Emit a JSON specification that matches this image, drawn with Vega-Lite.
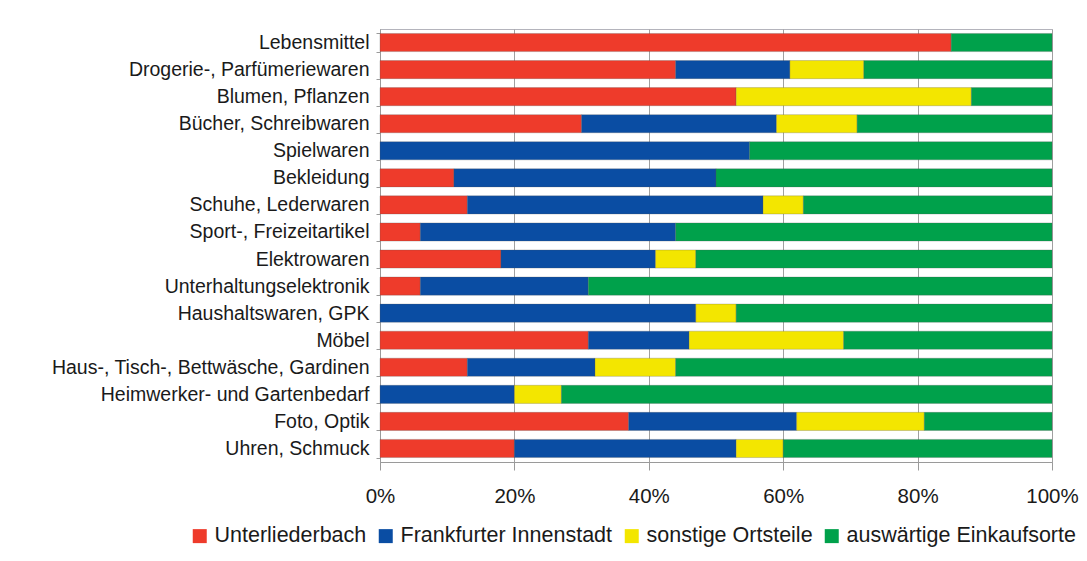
{
  "$schema": "https://vega.github.io/schema/vega-lite/v6.json",
  "autosize": {"type": "none"},
  "width": 672,
  "height": 433,
  "padding": {"left": 380, "top": 29, "right": 35, "bottom": 99},
  "background": "white",
  "config": {
    "font": "Liberation Sans",
    "view": {"stroke": "#b4b4bc", "strokeWidth": 1},
    "axis": {"labelColor": "#1a1a1a", "domainColor": "#9a9a9a", "tickColor": "#9a9a9a", "gridColor": "#a0a0a0", "gridWidth": 1}
  },
  "data": {
    "values": [
      {"k": "Lebensmittel", "s": "Unterliederbach", "o": 1, "v": 85},
      {"k": "Lebensmittel", "s": "auswärtige Einkaufsorte", "o": 4, "v": 15},
      {"k": "Drogerie-, Parfümeriewaren", "s": "Unterliederbach", "o": 1, "v": 44},
      {"k": "Drogerie-, Parfümeriewaren", "s": "Frankfurter Innenstadt", "o": 2, "v": 17},
      {"k": "Drogerie-, Parfümeriewaren", "s": "sonstige Ortsteile", "o": 3, "v": 11},
      {"k": "Drogerie-, Parfümeriewaren", "s": "auswärtige Einkaufsorte", "o": 4, "v": 28},
      {"k": "Blumen, Pflanzen", "s": "Unterliederbach", "o": 1, "v": 53},
      {"k": "Blumen, Pflanzen", "s": "sonstige Ortsteile", "o": 3, "v": 35},
      {"k": "Blumen, Pflanzen", "s": "auswärtige Einkaufsorte", "o": 4, "v": 12},
      {"k": "Bücher, Schreibwaren", "s": "Unterliederbach", "o": 1, "v": 30},
      {"k": "Bücher, Schreibwaren", "s": "Frankfurter Innenstadt", "o": 2, "v": 29},
      {"k": "Bücher, Schreibwaren", "s": "sonstige Ortsteile", "o": 3, "v": 12},
      {"k": "Bücher, Schreibwaren", "s": "auswärtige Einkaufsorte", "o": 4, "v": 29},
      {"k": "Spielwaren", "s": "Frankfurter Innenstadt", "o": 2, "v": 55},
      {"k": "Spielwaren", "s": "auswärtige Einkaufsorte", "o": 4, "v": 45},
      {"k": "Bekleidung", "s": "Unterliederbach", "o": 1, "v": 11},
      {"k": "Bekleidung", "s": "Frankfurter Innenstadt", "o": 2, "v": 39},
      {"k": "Bekleidung", "s": "auswärtige Einkaufsorte", "o": 4, "v": 50},
      {"k": "Schuhe, Lederwaren", "s": "Unterliederbach", "o": 1, "v": 13},
      {"k": "Schuhe, Lederwaren", "s": "Frankfurter Innenstadt", "o": 2, "v": 44},
      {"k": "Schuhe, Lederwaren", "s": "sonstige Ortsteile", "o": 3, "v": 6},
      {"k": "Schuhe, Lederwaren", "s": "auswärtige Einkaufsorte", "o": 4, "v": 37},
      {"k": "Sport-, Freizeitartikel", "s": "Unterliederbach", "o": 1, "v": 6},
      {"k": "Sport-, Freizeitartikel", "s": "Frankfurter Innenstadt", "o": 2, "v": 38},
      {"k": "Sport-, Freizeitartikel", "s": "auswärtige Einkaufsorte", "o": 4, "v": 56},
      {"k": "Elektrowaren", "s": "Unterliederbach", "o": 1, "v": 18},
      {"k": "Elektrowaren", "s": "Frankfurter Innenstadt", "o": 2, "v": 23},
      {"k": "Elektrowaren", "s": "sonstige Ortsteile", "o": 3, "v": 6},
      {"k": "Elektrowaren", "s": "auswärtige Einkaufsorte", "o": 4, "v": 53},
      {"k": "Unterhaltungselektronik", "s": "Unterliederbach", "o": 1, "v": 6},
      {"k": "Unterhaltungselektronik", "s": "Frankfurter Innenstadt", "o": 2, "v": 25},
      {"k": "Unterhaltungselektronik", "s": "auswärtige Einkaufsorte", "o": 4, "v": 69},
      {"k": "Haushaltswaren, GPK", "s": "Frankfurter Innenstadt", "o": 2, "v": 47},
      {"k": "Haushaltswaren, GPK", "s": "sonstige Ortsteile", "o": 3, "v": 6},
      {"k": "Haushaltswaren, GPK", "s": "auswärtige Einkaufsorte", "o": 4, "v": 47},
      {"k": "Möbel", "s": "Unterliederbach", "o": 1, "v": 31},
      {"k": "Möbel", "s": "Frankfurter Innenstadt", "o": 2, "v": 15},
      {"k": "Möbel", "s": "sonstige Ortsteile", "o": 3, "v": 23},
      {"k": "Möbel", "s": "auswärtige Einkaufsorte", "o": 4, "v": 31},
      {"k": "Haus-, Tisch-, Bettwäsche, Gardinen", "s": "Unterliederbach", "o": 1, "v": 13},
      {"k": "Haus-, Tisch-, Bettwäsche, Gardinen", "s": "Frankfurter Innenstadt", "o": 2, "v": 19},
      {"k": "Haus-, Tisch-, Bettwäsche, Gardinen", "s": "sonstige Ortsteile", "o": 3, "v": 12},
      {"k": "Haus-, Tisch-, Bettwäsche, Gardinen", "s": "auswärtige Einkaufsorte", "o": 4, "v": 56},
      {"k": "Heimwerker- und Gartenbedarf", "s": "Frankfurter Innenstadt", "o": 2, "v": 20},
      {"k": "Heimwerker- und Gartenbedarf", "s": "sonstige Ortsteile", "o": 3, "v": 7},
      {"k": "Heimwerker- und Gartenbedarf", "s": "auswärtige Einkaufsorte", "o": 4, "v": 73},
      {"k": "Foto, Optik", "s": "Unterliederbach", "o": 1, "v": 37},
      {"k": "Foto, Optik", "s": "Frankfurter Innenstadt", "o": 2, "v": 25},
      {"k": "Foto, Optik", "s": "sonstige Ortsteile", "o": 3, "v": 19},
      {"k": "Foto, Optik", "s": "auswärtige Einkaufsorte", "o": 4, "v": 19},
      {"k": "Uhren, Schmuck", "s": "Unterliederbach", "o": 1, "v": 20},
      {"k": "Uhren, Schmuck", "s": "Frankfurter Innenstadt", "o": 2, "v": 33},
      {"k": "Uhren, Schmuck", "s": "sonstige Ortsteile", "o": 3, "v": 7},
      {"k": "Uhren, Schmuck", "s": "auswärtige Einkaufsorte", "o": 4, "v": 40}
    ]
  },
  "mark": {"type": "bar", "stroke": "#555555", "strokeWidth": 0.6, "strokeOpacity": 0.45},
  "encoding": {
    "y": {
      "field": "k", "type": "nominal", "sort": null,
      "scale": {"paddingInner": 0.33, "paddingOuter": 0.165},
      "axis": {"title": null, "labelFontSize": 19.5, "labelPadding": 7, "tickSize": 4, "tickBand": "extent", "labelLimit": 400, "domain": true}
    },
    "x": {
      "field": "v", "type": "quantitative", "stack": "normalize",
      "scale": {"domain": [0, 1], "nice": false},
      "axis": {"title": null, "values": [0, 0.2, 0.4, 0.6, 0.8, 1], "format": ".0%", "labelFontSize": 20.5, "tickSize": 8, "labelPadding": 16, "grid": true, "labelFlush": false}
    },
    "order": {"field": "o", "type": "quantitative"},
    "color": {
      "field": "s", "type": "nominal",
      "scale": {
        "domain": ["Unterliederbach", "Frankfurter Innenstadt", "sonstige Ortsteile", "auswärtige Einkaufsorte"],
        "range": ["#EE3B2B", "#0A4DA3", "#F3E600", "#00A14B"]
      },
      "legend": {
        "title": null, "orient": "none", "direction": "horizontal",
        "legendX": -191, "legendY": 496,
        "symbolType": "square", "symbolSize": 196, "symbolStrokeWidth": 0,
        "labelFontSize": 21.5, "labelColor": "#1a1a1a", "labelOffset": 4, "columnPadding": 8, "labelLimit": 400
      }
    }
  }
}
